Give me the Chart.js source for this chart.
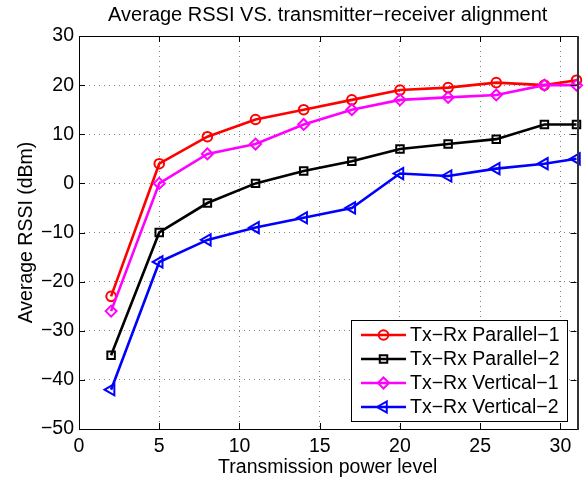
<!DOCTYPE html>
<html>
<head>
<meta charset="utf-8">
<script src="https://cdn.jsdelivr.net/npm/chart.js@4/dist/chart.umd.min.js"></script>
<style>
  html, body { margin: 0; padding: 0; background: #fff; }
  #wrap { width: 585px; height: 479px; }
</style>
</head>
<body>
<div id="wrap"><canvas id="c" width="585" height="479"></canvas></div>
<script>
const powerLevels = [2, 5, 8, 11, 14, 17, 20, 23, 26, 29, 31];
const parallel1 = [-23, 4, 9.5, 13, 15, 17, 19, 19.5, 20.5, 20, 21];
const parallel2 = [-35, -10, -4, 0, 2.5, 4.5, 7, 8, 9, 12, 12];
const vertical1 = [-26, 0, 6, 8, 12, 15, 17, 17.5, 18, 20, 20];
const vertical2 = [-42, -16, -11.5, -9, -7, -5, 2, 1.5, 3, 4, 5];
const seriesNames = ['Tx\u2212Rx Parallel\u22121', 'Tx\u2212Rx Parallel\u22122', 'Tx\u2212Rx Vertical\u22121', 'Tx\u2212Rx Vertical\u22122'];
const xTicks = [0, 5, 10, 15, 20, 25, 30];
const yTicks = [-50, -40, -30, -20, -10, 0, 10, 20, 30];
const titleText = 'Average RSSI VS. transmitter\u2212receiver alignment';
const xTitle = 'Transmission power level';
const yTitle = 'Average RSSI (dBm)';

const FONT = '"Liberation Sans", Arial, Helvetica, sans-serif';
const FS = 19.5;

function pts(ys) { return powerLevels.map((x, i) => ({ x: x, y: ys[i] })); }

const styles = [
  { color: '#ff0000', pointStyle: 'circle', radius: 4.8, rotation: 0 },
  { color: '#000000', pointStyle: 'rect', radius: 5.3, rotation: 0 },
  { color: '#ff00ff', pointStyle: 'rectRot', radius: 5.5, rotation: 0 },
  { color: '#0000ff', pointStyle: 'triangle', radius: 6.5, rotation: -90 }
];
const seriesData = [parallel1, parallel2, vertical1, vertical2];

const datasets = seriesData.map((ys, i) => ({
  label: seriesNames[i],
  data: pts(ys),
  borderColor: styles[i].color,
  backgroundColor: 'rgba(0,0,0,0)',
  borderWidth: 2.6,
  pointStyle: styles[i].pointStyle,
  pointRadius: styles[i].radius,
  pointRotation: styles[i].rotation,
  pointBorderWidth: 2,
  pointBorderColor: styles[i].color,
  pointBackgroundColor: 'rgba(0,0,0,0)',
  tension: 0,
  clip: false,
  order: -i
}));

function fmt(v) { return v < 0 ? '\u2212' + Math.abs(v) : String(v); }

const boxPlugin = {
  id: 'box',
  afterDraw(chart) {
    const ctx = chart.ctx;
    const a = chart.chartArea;
    const xs = chart.scales.x, ys = chart.scales.y;
    ctx.save();
    ctx.strokeStyle = '#000';
    ctx.lineWidth = 1;
    ctx.setLineDash([]);
    ctx.beginPath();
    const tl = 6;
    xTicks.forEach(v => {
      const px = Math.round(xs.getPixelForValue(v)) + 0.5;
      ctx.moveTo(px, a.bottom); ctx.lineTo(px, a.bottom - tl);
      ctx.moveTo(px, a.top); ctx.lineTo(px, a.top + tl);
    });
    yTicks.forEach(v => {
      const py = Math.round(ys.getPixelForValue(v)) + 0.5;
      ctx.moveTo(a.left, py); ctx.lineTo(a.left + tl, py);
      ctx.moveTo(a.right, py); ctx.lineTo(a.right - tl, py);
    });
    ctx.stroke();
    ctx.strokeRect(Math.round(a.left) + 0.5, Math.round(a.top) + 0.5, Math.round(a.right - a.left), Math.round(a.bottom - a.top));
    ctx.strokeStyle = '#333';
    ctx.lineWidth = 2;
    ctx.beginPath();
    ctx.moveTo(Math.round(a.right) + 1, a.top); ctx.lineTo(Math.round(a.right) + 1, a.bottom + 1);
    ctx.stroke();

    // legend
    const lx = 351, ly = 320, lw = 216, lh = 101;
    ctx.fillStyle = '#fff';
    ctx.fillRect(lx, ly, lw, lh);
    ctx.strokeStyle = '#000';
    ctx.lineWidth = 1;
    ctx.strokeRect(lx + 0.5, ly + 0.5, lw, lh);
    ctx.font = FS + 'px ' + FONT;
    ctx.textBaseline = 'middle';
    ctx.textAlign = 'left';
    chart.data.datasets.forEach((ds, i) => {
      const y = ly + 15 + i * 24;
      ctx.strokeStyle = ds.borderColor;
      ctx.lineWidth = ds.borderWidth;
      ctx.beginPath();
      ctx.moveTo(lx + 10, y); ctx.lineTo(lx + 55, y);
      ctx.stroke();
      ctx.lineWidth = ds.pointBorderWidth;
      const opts = { pointStyle: ds.pointStyle, radius: ds.pointRadius, rotation: ds.pointRotation, borderWidth: ds.pointBorderWidth };
      ctx.fillStyle = 'rgba(0,0,0,0)';
      if (Chart.helpers && Chart.helpers.drawPoint) {
        Chart.helpers.drawPoint(ctx, opts, lx + 32.5, y);
      } else {
        ctx.beginPath(); ctx.arc(lx + 32.5, y, ds.pointRadius, 0, Math.PI * 2); ctx.stroke();
      }
      ctx.fillStyle = '#000';
      ctx.fillText(ds.label, lx + 59, y + 1);
    });
    ctx.restore();
  }
};

new Chart(document.getElementById('c'), {
  type: 'line',
  data: { datasets: datasets },
  plugins: [boxPlugin],
  options: {
    responsive: false,
    animation: false,
    devicePixelRatio: 1,
    layout: { padding: { left: 0, right: 7, top: 0, bottom: 0 } },
    plugins: {
      legend: { display: false },
      tooltip: { enabled: false },
      title: {
        display: true,
        fullSize: false,
        text: titleText,
        color: '#000',
        font: { family: FONT, size: 20, weight: 'normal', lineHeight: 1.2 },
        padding: { top: 3, bottom: 9 }
      }
    },
    scales: {
      x: {
        type: 'linear',
        min: 0, max: 31,
        afterBuildTicks(scale) { scale.ticks = xTicks.map(v => ({ value: v })); },
        afterFit(scale) { scale.height = 50; },
        ticks: { color: '#000', font: { family: FONT, size: FS }, padding: 6, maxRotation: 0, autoSkip: false, callback: v => fmt(v) },
        grid: { color: '#808080', lineWidth: 1, drawTicks: false },
        border: { display: false, dash: [1, 4] },
        title: { display: true, text: xTitle, color: '#000', font: { family: FONT, size: FS, lineHeight: 1.2 }, padding: { top: 0, bottom: 0 } }
      },
      y: {
        type: 'linear',
        min: -50, max: 30,
        afterBuildTicks(scale) { scale.ticks = yTicks.map(v => ({ value: v })); },
        afterFit(scale) { scale.width = 79; },
        ticks: { color: '#000', font: { family: FONT, size: FS }, padding: 5, autoSkip: false, callback: v => fmt(v) },
        grid: { color: '#808080', lineWidth: 1, drawTicks: false },
        border: { display: false, dash: [1, 4] },
        title: { display: true, text: yTitle, color: '#000', font: { family: FONT, size: FS, lineHeight: 1.2 }, padding: { top: 15, bottom: 0 } }
      }
    }
  }
});
</script>
</body>
</html>
